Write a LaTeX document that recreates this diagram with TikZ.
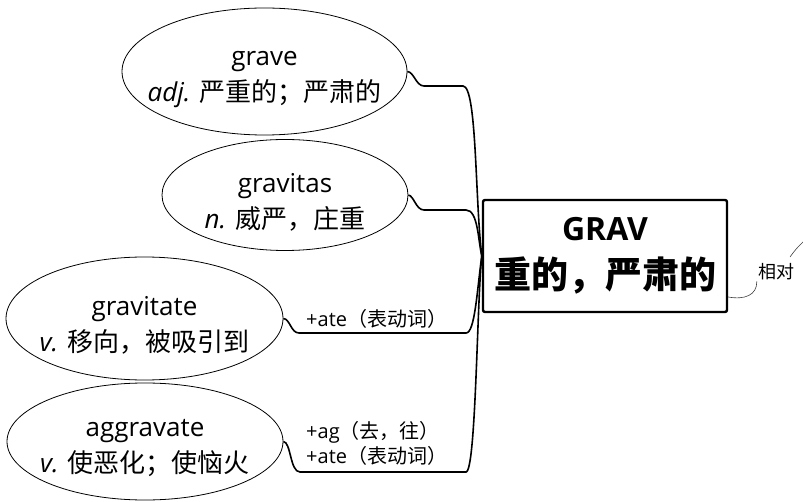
\documentclass[tikz,border=0pt]{standalone}
\usepackage{fontspec}
\setmainfont{Open Sans}
\newfontfamily\cjk{Noto Sans CJK SC}
\usetikzlibrary{shapes.geometric}

\tikzset{
  word/.style={ellipse, draw, line width=0.8pt, inner sep=0pt},
  wordtext/.style={align=center, inner sep=0pt, font=\fontsize{26}{36}\selectfont},
  root/.style={draw, line width=2.4pt, rounded corners=2pt, align=center,
    minimum width=244, minimum height=112, font=\fontsize{32}{48}\selectfont},
  branch/.style={line width=1.6pt},
  affix/.style={anchor=base west, inner sep=0pt, font=\fontsize{20}{24}\selectfont},
  relation/.style={line width=0.6pt, black!75},
}

\begin{document}
\begin{tikzpicture}[x=1pt,y=-1pt]
	\useasboundingbox (0,0) rectangle (803,502);

	% root
	\node[root] (grav) at (605,256) {\bfseries GRAV\\{\fontsize{37}{37}\selectfont\cjk\bfseries 重的，严肃的}};

	% words
	\node[word, minimum width=285, minimum height=127] (grave) at (264.5,71.5) {};
	\node[word, minimum width=246, minimum height=111] (gravitas) at (285,195) {};
	\node[word, minimum width=277, minimum height=123] (gravitate) at (144.5,318.5) {};
	\node[word, minimum width=276, minimum height=117] (aggravate) at (145,441.5) {};

	\node[wordtext] (grave-t) at ([yshift=-8pt]grave.center)
		{grave\\{\itshape adj.} {\cjk 严重的；严肃的}};
	\node[wordtext] (gravitas-t) at ([yshift=-7pt]gravitas.center)
		{gravitas\\{\itshape n.} {\cjk 威严，庄重}};
	\node[wordtext] (gravitate-t) at ([yshift=-7pt]gravitate.center)
		{gravitate\\{\itshape v.} {\cjk 移向，被吸引到}};
	\node[wordtext] (aggravate-t) at ([yshift=-7pt]aggravate.center)
		{aggravate\\{\itshape v.} {\cjk 使恶化；使恼火}};

	% branches
	\draw[branch] (grave.east) .. controls (414,72) and (416,86) .. (424,86)
		-- (463,86) .. controls (477,86) and (475,200) .. (grav.west);
	\draw[branch] (gravitas.east) .. controls (414,196) and (416,210) .. (424,210)
		-- (466,210) .. controls (478,210) and (478,240) .. (grav.west);
	\draw[branch] (gravitate.east) .. controls (290,319) and (291,333) .. (299,333)
		-- (466,333) .. controls (475,333) and (477,290) .. (grav.west);
	\draw[branch] (aggravate.east) .. controls (291,442) and (290,472) .. (300,472)
		-- (466,472) .. controls (476,472) and (477,300) .. (grav.west);

	% label
	\node[affix] (ate1) at (306,327) {+ate{\cjk（表动词）}};
	\node[affix] (ag) at (306,438) {+ag{\cjk（去，往）}};
	\node[affix] (ate2) at (306,463) {+ate{\cjk（表动词）}};

	% relation
	\node[inner sep=1pt, font=\fontsize{18}{20}\selectfont\cjk] (rel) at (776,272) {相对};
	\coordinate (relstart) at (790,257);
	\coordinate (relend) at (808,238);
	\draw[relation] ([yshift=-41pt]grav.east) .. controls (745,300) and (757,295) .. (rel.south west);
	\draw[relation] (relstart) .. controls (795,250) and (800,244) .. (relend);
\end{tikzpicture}
\end{document}
